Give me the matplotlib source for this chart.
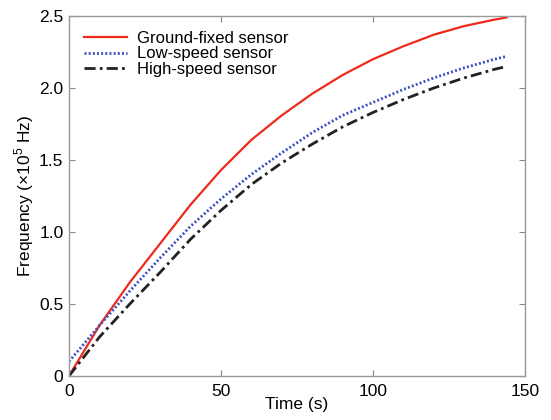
import numpy as np
import matplotlib
matplotlib.use('Agg')
import matplotlib.pyplot as plt

plt.rcParams['font.family'] = ['Liberation Sans', 'DejaVu Sans']
plt.rcParams['mathtext.fontset'] = 'custom'
plt.rcParams['mathtext.rm'] = 'Liberation Sans'

# Time samples (s) and frequency readings (x10^5 Hz)
time_s = [0, 10, 20, 30, 40, 50, 60, 70, 80, 90, 100, 110, 120, 130, 140, 144]
ground_fixed = [0.00, 0.35, 0.65, 0.92, 1.19, 1.43, 1.64, 1.81, 1.96, 2.09,
                2.20, 2.29, 2.37, 2.43, 2.475, 2.49]
low_speed = [0.10, 0.35, 0.59, 0.82, 1.04, 1.23, 1.40, 1.55, 1.69, 1.81,
             1.90, 1.99, 2.07, 2.14, 2.20, 2.22]
high_speed = [0.00, 0.27, 0.50, 0.72, 0.95, 1.15, 1.33, 1.48, 1.61, 1.73,
              1.83, 1.92, 2.00, 2.07, 2.13, 2.15]

x_ticks = [0, 50, 100, 150]
y_ticks = [0, 0.5, 1.0, 1.5, 2.0, 2.5]
y_tick_labels = ['0', '0.5', '1.0', '1.5', '2.0', '2.5']

fig = plt.figure(figsize=(5.51, 4.2), dpi=100)
ax = fig.add_axes([0.1252, 0.1048, 0.8276, 0.8571])

ax.plot(time_s, ground_fixed, '-', color='#ee2a1b', linewidth=1.6,
        label='Ground-fixed sensor')
ax.plot(time_s, low_speed, color='#3a4fc0', linewidth=2.0,
        dashes=(0.7, 0.8), label='Low-speed sensor')
ax.plot(time_s, high_speed, color='#222222', linewidth=2.0,
        dashes=(4, 1.5, 1, 1.5), label='High-speed sensor')

ax.set_xlim(0, 150)
ax.set_ylim(0, 2.5)
ax.set_xticks(x_ticks)
ax.set_yticks(y_ticks)
ax.set_yticklabels(y_tick_labels)
ax.tick_params(direction='in', top=True, right=True, length=4,
               labelsize=12.5, color='#888888')
ax.tick_params(axis='x', pad=6)
ax.tick_params(axis='y', pad=4)
for sp in ax.spines.values():
    sp.set_color('#999999')
    sp.set_linewidth(1.0)

ax.set_xlabel('Time (s)', fontsize=12.5, labelpad=-2)
ax.set_ylabel('Frequency (×10$^5$ Hz)', fontsize=12.5, labelpad=2)

ax.legend(loc='upper left', frameon=False, fontsize=12, handlelength=2.6,
          borderaxespad=0.5, labelspacing=0.02, handletextpad=0.6,
          borderpad=0.4)

fig.savefig('out.png', dpi=100)
